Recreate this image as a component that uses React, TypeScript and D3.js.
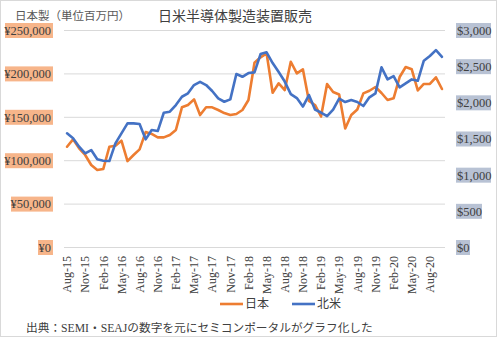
import React from "react";
import * as d3 from "d3";

const months = ["Jan","Feb","Mar","Apr","May","Jun","Jul","Aug","Sep","Oct","Nov","Dec"];
// Aug-15 .. Oct-20
const categories: string[] = [];
for (let k = 0; k < 63; k++) {
  const m = (7 + k) % 12;
  const y = 15 + Math.floor((7 + k) / 12);
  categories.push(`${months[m]}-${y}`);
}

const japan = [
  116100, 124600, 114300, 106600, 95000, 89300, 90500, 116100, 117300, 123000,
  99600, 106600, 113100, 133000, 130800, 126900, 126900, 129600, 135400, 161500,
  164200, 170700, 152600, 161500, 161500, 158400, 154900, 152600, 153800, 158400,
  169900, 212900, 219100, 223700, 178300, 189200, 181400, 214000, 200700, 205300,
  168800, 164200, 150900, 188400, 179100, 176300, 137100, 152600, 159000, 177600,
  180600, 184900, 178000, 169900, 171900, 196400, 207900, 205300, 180900, 188400,
  188400, 196100, 182600,
];

const northAmerica = [
  1578, 1509, 1393, 1302, 1347, 1219, 1200, 1195, 1440, 1578,
  1716, 1716, 1707, 1495, 1624, 1610, 1863, 1877, 1969, 2084,
  2131, 2246, 2291, 2246, 2163, 2062, 2015, 2048, 2398, 2360,
  2412, 2421, 2674, 2698, 2550, 2425, 2294, 2121, 2066, 1949,
  2108, 1907, 1866, 1817, 1907, 2059, 2011, 2038, 2011, 1956,
  2076, 2131, 2490, 2324, 2370, 2214, 2269, 2324, 2305, 2582,
  2647, 2729, 2637,
];

const leftTicks = [0, 50000, 100000, 150000, 200000, 250000];
const rightTicks = [0, 500, 1000, 1500, 2000, 2500, 3000];

const title = "日米半導体製造装置販売";
const unitLabel = "日本製（単位百万円）";
const footer = "出典：SEMI・SEAJの数字を元にセミコンポータルがグラフ化した";
const seriesNames = ["日本", "北米"];

const W = 497, H = 337;
const FONT = "'Liberation Serif', 'Noto Sans CJK JP', serif";

export default function App() {
  const x = d3.scaleBand<string>().domain(categories).range([64, 445]);
  const yL = d3.scaleLinear().domain([0, 250000]).range([247.5, 30.5]);
  const yR = d3.scaleLinear().domain([0, 3000]).range([247.5, 30.5]);
  const cx = (c: string) => (x(c) as number) + x.bandwidth() / 2;

  const lineJ = d3.line<number>().x((_, i) => cx(categories[i])).y((v) => yL(v));
  const lineN = d3.line<number>().x((_, i) => cx(categories[i])).y((v) => yR(v));

  const fmtYen = (v: number) => "¥" + d3.format(",")(v);
  const fmtUsd = (v: number) => "$" + d3.format(",")(v);

  return (
    <svg width={W} height={H} style={{ position: "absolute", left: 0, top: 0, background: "#fff" }} fontFamily={FONT}>
      <rect x={0.5} y={0.5} width={W - 1} height={H - 1} fill="#fff" stroke="#d9d9d9" />
      <text x={15} y={19.5} fontSize={11.5} fill="#595959">{unitLabel}</text>
      <text x={235} y={21} fontSize={14} fill="#404040" textAnchor="middle">{title}</text>

      {leftTicks.map((t) => (
        <line key={"g" + t} x1={64} x2={445} y1={yL(t)} y2={yL(t)} stroke="#d9d9d9" strokeWidth={1} />
      ))}

      {leftTicks.map((t) => {
        const label = fmtYen(t);
        const w = label.length * 6 - (label.split(",").length - 1) * 3 + 2;
        return (
          <g key={"l" + t}>
            <rect x={52 - w} y={yL(t) - 7.5} width={w + 1} height={15} fill="#f7b58a" />
            <text x={51} y={yL(t)} dy="0.35em" fontSize={12.5} textAnchor="end" fill="#404040">{label}</text>
          </g>
        );
      })}

      {rightTicks.map((t) => {
        const label = fmtUsd(t);
        const w = label.length * 6 - (label.split(",").length - 1) * 3 + 2;
        return (
          <g key={"r" + t}>
            <rect x={456} y={yR(t) - 7.5} width={w} height={15} fill="#b8c2d4" />
            <text x={457} y={yR(t)} dy="0.35em" fontSize={12.5} textAnchor="start" fill="#404040">{label}</text>
          </g>
        );
      })}

      {categories.map((c, i) =>
        i % 3 === 0 ? (
          <text key={c} transform={`translate(${cx(c)},256) rotate(-90)`} dy="0.35em" fontSize={12} textAnchor="end" fill="#404040">{c}</text>
        ) : null
      )}

      <path d={lineJ(japan) || ""} fill="none" stroke="#ED7D31" strokeWidth={2.6} strokeLinejoin="round" strokeLinecap="round" />
      <path d={lineN(northAmerica) || ""} fill="none" stroke="#4472C4" strokeWidth={2.6} strokeLinejoin="round" strokeLinecap="round" />

      <line x1={220} x2={243} y1={304} y2={304} stroke="#ED7D31" strokeWidth={2.6} />
      <text x={245} y={304} dy="0.35em" fontSize={12} fill="#404040">{seriesNames[0]}</text>
      <line x1={292} x2={315} y1={304} y2={304} stroke="#4472C4" strokeWidth={2.6} />
      <text x={317} y={304} dy="0.35em" fontSize={12} fill="#404040">{seriesNames[1]}</text>

      <text x={26} y={328} dy="0.35em" fontSize={11.7} fill="#404040">{footer}</text>
    </svg>
  );
}
